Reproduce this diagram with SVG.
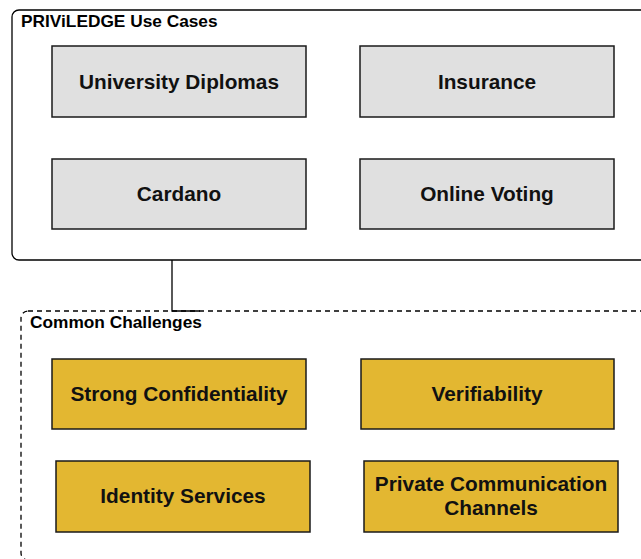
<svg xmlns="http://www.w3.org/2000/svg" width="641" height="559" viewBox="0 0 641 559">
<style>
.container{fill:#ffffff;stroke:#000000;stroke-width:1.3}
.dashed{stroke-dasharray:5 4}
.title{font-family:"Liberation Sans",Arial,sans-serif;font-weight:bold;font-size:17.3px;fill:#000}
.gray{fill:#e0e0e0;stroke:#1a1a1a;stroke-width:1.5}
.yellow{fill:#e3b731;stroke:#1a1a1a;stroke-width:1.5}
.label{font-family:"Liberation Sans",Arial,sans-serif;font-weight:bold;font-size:20.8px;fill:#111;text-anchor:middle}
.conn{fill:none;stroke:#000;stroke-width:1.3}
</style>
<rect width="641" height="559" fill="#ffffff"/>
<g id="use-cases">
<rect class="container" x="12" y="10" width="660" height="250" rx="7"/>
<text class="title" x="21" y="27">PRIViLEDGE Use Cases</text>
</g>
<g id="challenges">
<rect class="container dashed" x="21" y="311" width="660" height="249" rx="7"/>
<text class="title" x="30" y="328">Common Challenges</text>
</g>
<g id="connectors">
<path class="conn" d="M172,260 V311 H200"/>
</g>
<g id="university-diplomas">
<rect class="gray" x="52" y="46" width="254" height="71"/>
<text class="label" x="179" y="89">University Diplomas</text>
</g>
<g id="insurance">
<rect class="gray" x="360" y="46" width="254" height="71"/>
<text class="label" x="487" y="89">Insurance</text>
</g>
<g id="cardano">
<rect class="gray" x="52" y="159" width="254" height="70"/>
<text class="label" x="179" y="201">Cardano</text>
</g>
<g id="online-voting">
<rect class="gray" x="360" y="159" width="254" height="70"/>
<text class="label" x="487" y="201">Online Voting</text>
</g>
<g id="strong-confidentiality">
<rect class="yellow" x="52" y="359" width="254" height="70"/>
<text class="label" x="179" y="401">Strong Confidentiality</text>
</g>
<g id="verifiability">
<rect class="yellow" x="361" y="359" width="253" height="70"/>
<text class="label" x="487" y="401">Verifiability</text>
</g>
<g id="identity-services">
<rect class="yellow" x="56" y="461" width="254" height="71"/>
<text class="label" x="183" y="503">Identity Services</text>
</g>
<g id="private-communication-channels">
<rect class="yellow" x="364" y="461" width="254" height="71"/>
<text class="label" x="491" y="491">Private Communication</text>
<text class="label" x="491" y="515">Channels</text>
</g>
</svg>
